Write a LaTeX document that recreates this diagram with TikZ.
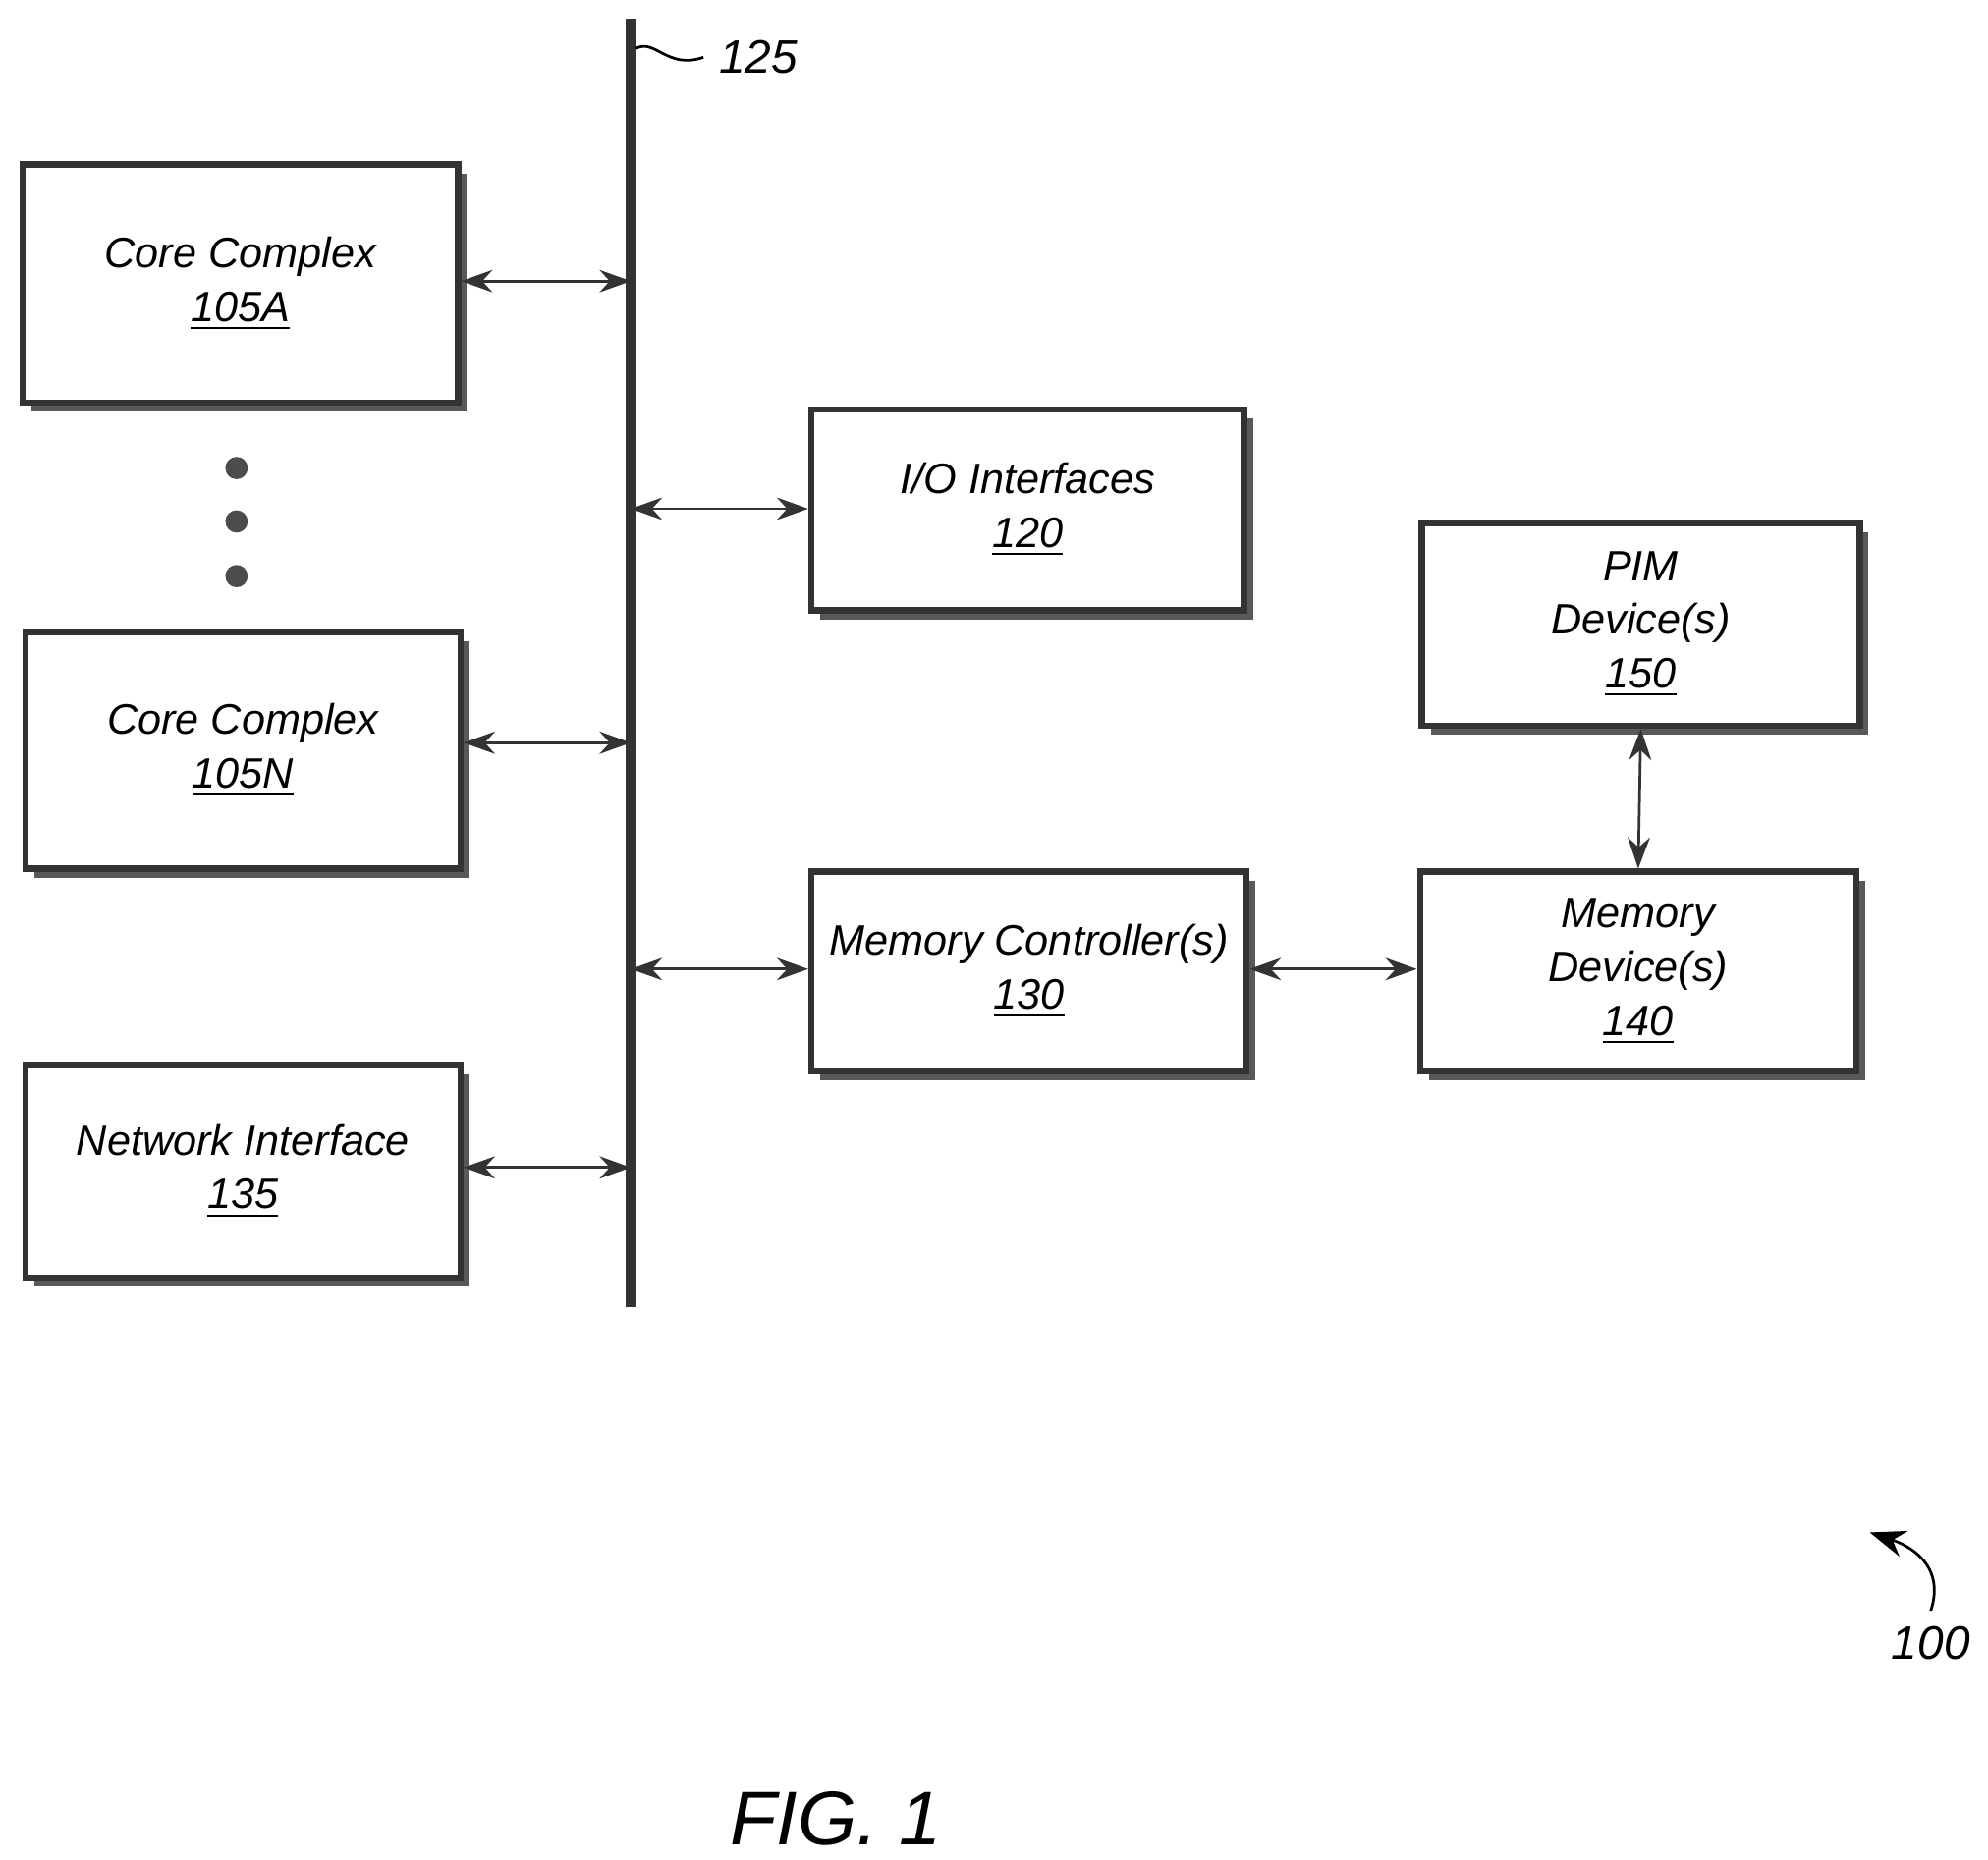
\documentclass[tikz,border=0pt]{standalone}
\usepackage{fontspec}
\setmainfont{Liberation Sans}
\usetikzlibrary{calc}
\usetikzlibrary{shadows}
\usetikzlibrary{arrows.meta}
\tikzset{
	boxstyle/.style={rectangle,draw=black!80,line width=1.4pt,fill=white,inner sep=2pt,
		drop shadow={shadow xshift=2pt,shadow yshift=-2pt,fill=black!65,opacity=1},
		align=center,font=\fontsize{9.5}{12}\selectfont\itshape},
	linkstyle/.style={{Stealth[length=7pt,width=5pt]}-{Stealth[length=7pt,width=5pt]},line width=0.6pt,black!80},
	dotstyle/.style={circle,fill=black!70,inner sep=0pt,minimum size=5pt}
}
\newcommand{\ulab}[1]{\underline{#1}}
\begin{document}
\begin{tikzpicture}[x=0.01cm,y=-0.01cm]
		\useasboundingbox (0,0) rectangle (1563,1462);
		\node[boxstyle,minimum width=3.42cm,minimum height=1.87cm] (cc1) at (189,223) {Core Complex\\\ulab{105A}};
		\node[boxstyle,minimum width=3.42cm,minimum height=1.86cm] (ccn) at (191,590) {Core Complex\\\ulab{105N}};
		\node[boxstyle,minimum width=3.42cm,minimum height=1.67cm] (net) at (191,921) {Network Interface\\\ulab{135}};
		\node[boxstyle,minimum width=3.40cm,minimum height=1.58cm] (io) at (808,401) {I/O Interfaces\\\ulab{120}};
		\node[boxstyle,minimum width=3.42cm,minimum height=1.57cm] (mc) at (809,764) {Memory Controller(s)\\\ulab{130}};
		\node[boxstyle,minimum width=3.44cm,minimum height=1.59cm] (pim) at (1290,491) {PIM\\Device(s)\\\ulab{150}};
		\node[boxstyle,minimum width=3.43cm,minimum height=1.57cm] (md) at (1288,764) {Memory\\Device(s)\\\ulab{140}};
		% bus
		\coordinate (bustop) at (496,15);
		\coordinate (busbot) at (496,1028);
		\draw[line width=2.5pt,black!80] (bustop) -- (busbot);
		\coordinate (b1) at (496,221);
		\coordinate (bn) at (496,584);
		\coordinate (bnet) at (496,918);
		\coordinate (bio) at (496,400);
		\coordinate (bmc) at (496,762);
		\draw[linkstyle] (cc1.east |- b1) -- (b1);
		\draw[linkstyle] (ccn.east |- bn) -- (bn);
		\draw[linkstyle] (net.east |- bnet) -- (bnet);
		\draw[linkstyle] (bio) -- (io.west |- bio);
		\draw[linkstyle] (bmc) -- (mc.west |- bmc);
		\draw[linkstyle] (mc.east |- bmc) -- (md.west |- bmc);
		\draw[linkstyle] (pim.south) -- (md.north);
		% dots
		\foreach \y in {368,410,453}
			\node[dotstyle] at (186,\y) {};
		% labels
		\node[font=\fontsize{10.5}{13}\selectfont\itshape,anchor=west] (l125) at (553,45) {125};
		\draw[line width=0.6pt] (500,38) .. controls (515,30) and (525,55) .. (l125.west);
		\node[font=\fontsize{10.5}{13}\selectfont\itshape] (l100) at (1518,1292) {100};
		\coordinate (a100) at (1470,1205);
		\draw[-{Stealth[length=8pt,width=6pt]},line width=0.6pt] (l100.north) .. controls (1530,1230) and (1500,1215) .. (a100);
		\node[font=\fontsize{17}{20}\selectfont\itshape] (fig) at (657,1430) {FIG. 1};
\end{tikzpicture}
\end{document}
